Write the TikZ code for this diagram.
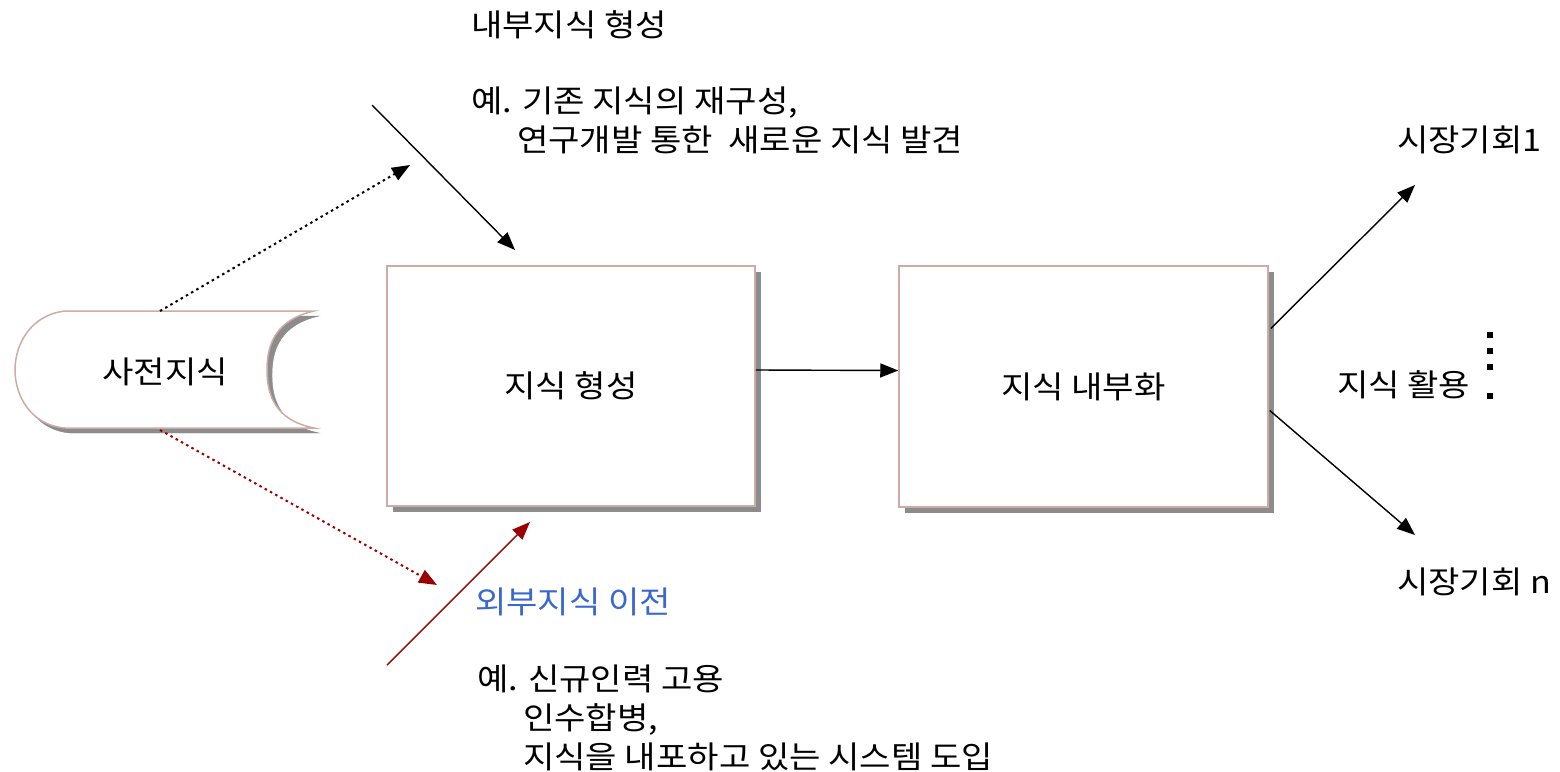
\documentclass[tikz,border=0pt]{standalone}
\usepackage{fontspec}
\setmainfont[FakeStretch=1.1]{Noto Sans CJK KR}
\usetikzlibrary{arrows.meta,shadows}

\definecolor{boxline}{RGB}{205,172,166}
\definecolor{darkred}{RGB}{155,0,0}
\definecolor{textblue}{RGB}{58,104,204}

\begin{document}
\begin{tikzpicture}[x=1pt,y=-1pt,
    txt/.style={font=\fontsize{31pt}{39pt}\selectfont, inner sep=0pt, align=left},
    kbox/.style={txt, draw=boxline, line width=1.5pt, fill=white,
        drop shadow={shadow xshift=6pt, shadow yshift=-6pt, fill=black!45, opacity=1}},
    arr/.style={line width=1.4pt, -{Triangle[length=18pt,width=14pt]}},
    dotarr/.style={arr, line width=2pt, dash pattern=on 2.5pt off 3.5pt}
]
    \useasboundingbox (0,0) rectangle (1560,771);

    % prior knowledge (stored data shape)
    \filldraw[black!45] (70,316) .. controls (35,320) and (20,350) .. (20,375)
        .. controls (20,400) and (35,430) .. (70,433) -- (319,433)
        .. controls (280,425) and (272,400) .. (272,375)
        .. controls (272,350) and (280,325) .. (319,316) -- cycle;
    \filldraw[draw=boxline, fill=white, line width=1.5pt] (65,311) .. controls (30,315) and (15,345) .. (15,370)
        .. controls (15,395) and (30,425) .. (65,428) -- (314,428)
        .. controls (275,420) and (267,395) .. (267,370)
        .. controls (267,345) and (275,320) .. (314,311) -- cycle;
    \node[txt] (prior) at (165,372) {사전지식};
    \coordinate (priortop) at (160,311);
    \coordinate (priorbot) at (160,430);

    % boxes
    \node[kbox, minimum width=368pt, minimum height=240pt] (form) at (571,386) {지식 형성};
    \node[kbox, minimum width=369pt, minimum height=241pt] (intern) at (1083.5,386.5) {지식 내부화};

    % texts
    \node[txt, anchor=west] (inner) at (471,25) {내부지식 형성};
    \node[txt, anchor=west] (innerex) at (471,120) {예. 기존 지식의 재구성,\\\hspace*{46pt}연구개발 통한 \ 새로운 지식 발견};
    \node[txt, anchor=west, text=textblue] (outer) at (475,602) {외부지식 이전};
    \node[txt, anchor=west] (outerex) at (477,718) {예. 신규인력 고용\\\hspace*{46pt}인수합병,\\\hspace*{46pt}지식을 내포하고 있는 시스템 도입};
    \node[txt, anchor=west] (use) at (1337,385) {지식 활용};
    \node[txt, anchor=west] (opp1) at (1397,140) {시장기회1};
    \node[txt, anchor=west] (oppn) at (1397,582) {시장기회 n};

    % dots
    \foreach \y in {335,351,367,396}
        \fill (1487,\y-3) rectangle (1493,\y+3);

    % connectors
    \coordinate (innerin) at (372,105);
    \coordinate (innerhit) at (515,250);
    \coordinate (outerin) at (387,665);
    \coordinate (outerhit) at (530,522);
    \coordinate (innerdot) at (410,165);
    \coordinate (outerdot) at (437,585);
    \coordinate (opp1end) at (1415,185);
    \coordinate (oppnend) at (1415,535);

    \draw[dotarr] (priortop) -- (innerdot);
    \draw[dotarr, darkred] (priorbot) -- (outerdot);
    \draw[arr] (innerin) -- (innerhit);
    \draw[arr, darkred] (outerin) -- (outerhit);
    \draw[arr] ([yshift=16pt]form.east) -- ([yshift=16pt]intern.west);
    \draw[arr] ([yshift=58pt,xshift=2pt]intern.east) -- (opp1end);
    \draw[arr] ([yshift=-24pt,xshift=1pt]intern.east) -- (oppnend);
\end{tikzpicture}
\end{document}
